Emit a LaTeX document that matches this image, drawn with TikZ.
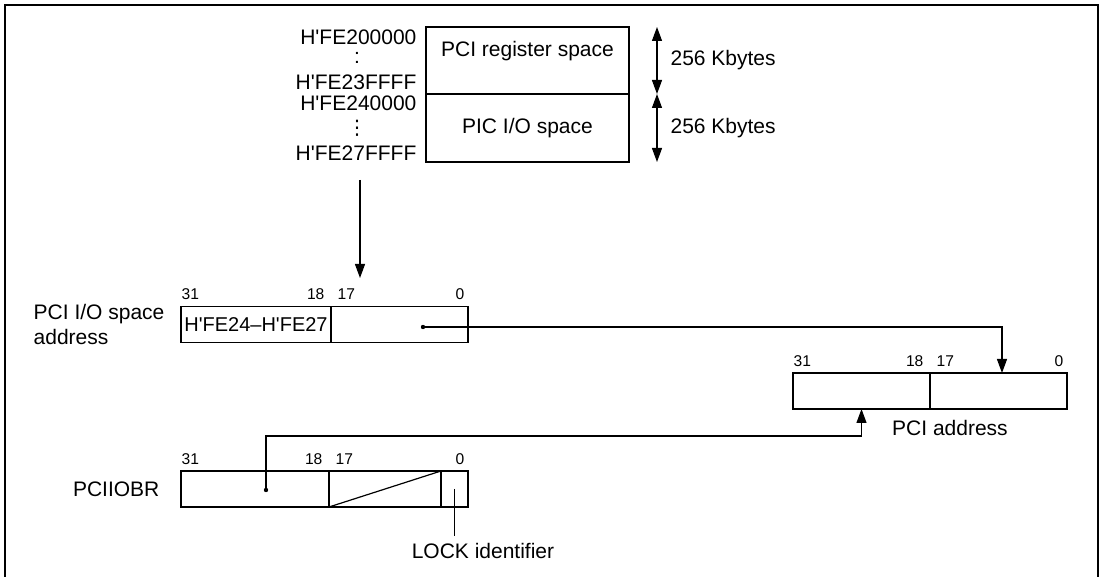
\documentclass[tikz,border=0pt]{standalone}
\usepackage{fontspec}
\setmainfont{Liberation Sans}
\newfontfamily\symfont{DejaVu Sans}
\usepackage{tikz}
\usetikzlibrary{arrows.meta,positioning,calc}
\newcommand{\haddr}[1]{H\textquotesingle #1}
% bit numbers over a register: high field, low field, last field
\newcommand{\bitnums}[3]{%
  \node[bitno,anchor=south west] (#1b31) at (#1.north west) {31};
  \node[bitno,anchor=south east,xshift=-3pt] (#1b18) at (#1.north east) {18};
  \node[bitno,anchor=south west,xshift=3pt] (#2b17) at (#2.north west) {17};
  \node[bitno,anchor=south east,xshift=-1.5pt] (#3b0) at (#3.north east) {0};}

\begin{document}
\begin{tikzpicture}[x=0.5pt,y=-0.5pt,
  font=\fontsize{10.5}{12.6}\selectfont,
  line width=0.6pt,
  >={Triangle[length=7pt,width=5pt]},
  mapbox/.style={draw,inner sep=0pt,outer sep=0pt,minimum width=101.5pt},
  field/.style={draw,inner sep=0pt,outer sep=0pt,minimum height=18pt},
  bitno/.style={inner sep=0pt,font=\fontsize{7.8}{8}\selectfont,yshift=3pt},
  lbl/.style={inner sep=0pt}]
  \useasboundingbox (0,0) rectangle (1100,577);
  \draw[line width=1pt] (5,590) |- (1098,5) -- (1098,590);

  % address map
  \node[mapbox,minimum height=33.5pt,text depth=12pt] (regsp) at (527.5,60.5) {PCI register space};
  \node[mapbox,minimum height=34pt,below=0pt of regsp] (iosp) {PIC I/O space};
  \foreach \y/\t [count=\i] in {37/FE200000,82/FE23FFFF,103/FE240000,153/FE27FFFF}
    \node[lbl,anchor=east] (adr\i) at (417,\y) {\haddr{\t}};
  \node[lbl,text height=5pt,text depth=0pt] (gap1) at (357,59) {:};
  \node[lbl,font=\symfont\fontsize{10}{12}\selectfont] (gap2) at (357,128) {⋮};

  \coordinate (sz) at (657,0);
  \draw[<->] (regsp.north -| sz) -- (regsp.south -| sz);
  \draw[<->] (iosp.north -| sz) -- (iosp.south -| sz);
  \node[lbl,anchor=west] (kb1) at ($(sz |- regsp.center)+(13,0)$) {256 Kbytes};
  \node[lbl,anchor=west] (kb2) at ($(sz |- iosp.center)+(13,0)$) {256 Kbytes};

  \coordinate (mapbot) at (360,180);
  \coordinate (iotop) at (360,278);
  \draw[->] (mapbot) -- (iotop);

  % PCI I/O space address
  \node[field,minimum width=75pt] (ioh) at (256,324.5) {\fontsize{10}{12}\selectfont\haddr{FE24}–\haddr{FE27}};
  \node[field,minimum width=68.5pt,right=0pt of ioh] (iol) {};
  \bitnums{ioh}{iol}{iol}
  \node[lbl,anchor=east,align=left] (ioname) at ($(ioh.west)+(-16,0)$) {PCI I/O space\\address};
  \coordinate (iodot) at ($(iol.center)+(23.5,2.5)$);
  \fill (iodot) circle (1.1pt);

  % PCI address
  \node[field,minimum width=68.5pt] (pah) at (861.5,391) {};
  \node[field,minimum width=68.5pt,right=0pt of pah] (pal) {};
  \bitnums{pah}{pal}{pal}
  \node[lbl] (pacap) at (950,428) {PCI address};

  % PCIIOBR
  \node[field,minimum width=74pt] (obh) at (255,489) {};
  \node[field,minimum width=56pt,right=0pt of obh] (obm) {};
  \node[field,minimum width=13.5pt,right=0pt of obm] (obl) {};
  \draw (obm.south west) -- (obm.north east);
  \bitnums{obh}{obm}{obl}
  \node[lbl,anchor=east] (obname) at ($(obh.west)+(-21,0)$) {PCIIOBR};
  \coordinate (obdot) at ($(obh.center)+(11,1)$);
  \fill (obdot) circle (1.1pt);
  \node[lbl,anchor=north] (lockid) at (483,543) {LOCK identifier};
  \draw (obl.center) -- ([yshift=3.5pt]lockid.north -| obl.center);

  % connectors
  \draw[->] (iodot) -| ([xshift=1.75pt]pal.north);
  \draw[->] (obdot) |- ($(pah.south)+(0,27)$) -- (pah.south);
\end{tikzpicture}
\end{document}
